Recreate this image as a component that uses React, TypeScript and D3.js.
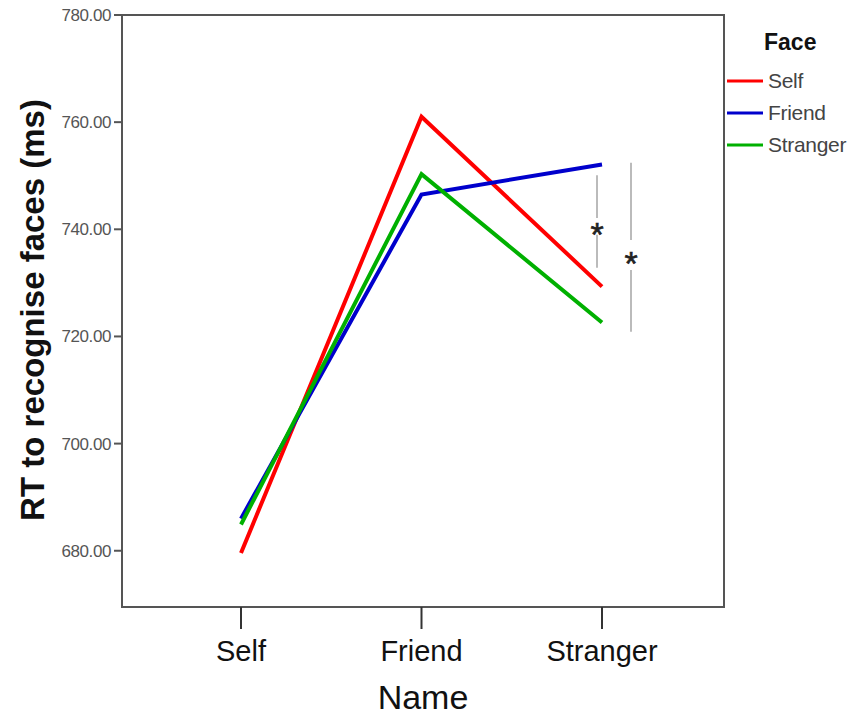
import * as d3 from "d3";

const NAMES = ["Self", "Friend", "Stranger"];
const FACES = ["Self", "Friend", "Stranger"];
const FACE_COLORS = ["#ff0000", "#0000cc", "#00b000"];
// RT (ms) per face type, across Name categories
const SELF_FACE = [679.6, 761.0, 729.3];
const FRIEND_FACE = [686.0, 746.5, 752.1];
const STRANGER_FACE = [684.9, 750.3, 722.6];
const Y_TICKS = [680, 700, 720, 740, 760, 780];
// significance brackets at Stranger: top, gap (for the star) and bottom, in ms
const SIG_BRACKETS = [
  { top: 750.1, gapTop: 742.1, gapBottom: 739.0, bottom: 732.8, offset: -5 },
  { top: 752.4, gapTop: 738.0, gapBottom: 732.4, bottom: 720.9, offset: 29 },
];

const SERIES = [SELF_FACE, FRIEND_FACE, STRANGER_FACE];

export default function App() {
  const width = 864;
  const height = 716;
  const left = 122;
  const right = 724;
  const top = 15;
  const bottom = 607;

  const x = d3.scalePoint().domain(NAMES).range([241, 602]);
  const y = d3.scaleLinear().domain([669.5, 780]).range([bottom, top]);

  const line = d3
    .line<number>()
    .x((_, i) => x(NAMES[i]) as number)
    .y((d) => y(d));

  const font = "'Liberation Sans', Arial, sans-serif";

  return (
    <svg
      width={width}
      height={height}
      style={{ position: "absolute", left: 0, top: 0, background: "#fff" }}
      fontFamily={font}
    >
      {/* frame */}
      <rect
        x={left}
        y={top}
        width={right - left}
        height={bottom - top}
        fill="none"
        stroke="#555"
        strokeWidth={2}
      />

      {Y_TICKS.map((t) => (
        <g key={t}>
          <line x1={left - 8} x2={left} y1={y(t)} y2={y(t)} stroke="#555" strokeWidth={2} />
          <text
            x={left - 11}
            y={y(t) + 6}
            textAnchor="end"
            fontSize={17}
            fill="#555"
            letterSpacing={-0.4}
          >
            {d3.format(".2f")(t)}
          </text>
        </g>
      ))}

      {NAMES.map((n) => (
        <g key={n}>
          <line
            x1={x(n)}
            x2={x(n)}
            y1={bottom}
            y2={bottom + 22}
            stroke="#333"
            strokeWidth={2}
          />
          <text x={x(n)} y={661} textAnchor="middle" fontSize={29} fill="#111">
            {n}
          </text>
        </g>
      ))}

      <text x={423} y={709} textAnchor="middle" fontSize={34} fill="#111">
        Name
      </text>

      <text
        transform={`translate(44, 310) rotate(-90)`}
        textAnchor="middle"
        fontSize={33}
        fontWeight="bold"
        fill="#111"
      >
        RT to recognise faces (ms)
      </text>

      {SERIES.map((s, i) => (
        <path
          key={FACES[i]}
          d={line(s) ?? ""}
          fill="none"
          stroke={FACE_COLORS[i]}
          strokeWidth={4}
          strokeLinejoin="miter"
        />
      ))}

      {SIG_BRACKETS.map((b, i) => {
        const bx = (x("Stranger") as number) + b.offset;
        const mid = (y(b.gapTop) + y(b.gapBottom)) / 2;
        return (
          <g key={i}>
            <line x1={bx} x2={bx} y1={y(b.top)} y2={y(b.gapTop)} stroke="#bbb" strokeWidth={2} />
            <line x1={bx} x2={bx} y1={y(b.gapBottom)} y2={y(b.bottom)} stroke="#bbb" strokeWidth={2} />
            <text
              x={bx}
              y={mid + 20}
              textAnchor="middle"
              fontSize={34}
              fill="#222"
              stroke="#222"
              strokeWidth={0.6}
            >
              *
            </text>
          </g>
        );
      })}

      {/* legend */}
      <text x={764} y={50} fontSize={23} fontWeight="bold" fill="#111">
        Face
      </text>
      {FACES.map((f, i) => {
        const ly = 81 + i * 32;
        return (
          <g key={f}>
            <line x1={727} x2={763} y1={ly} y2={ly} stroke={FACE_COLORS[i]} strokeWidth={3} />
            <text x={768} y={ly + 7} fontSize={21} fill="#444" letterSpacing={-0.3}>
              {f}
            </text>
          </g>
        );
      })}
    </svg>
  );
}
